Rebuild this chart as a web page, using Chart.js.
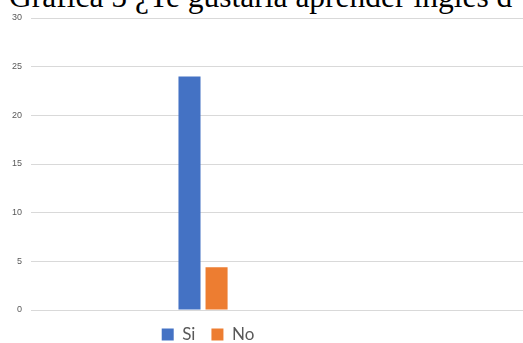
<!DOCTYPE html>
<html lang="es">
<head>
<meta charset="utf-8">
<title>Grafica 5</title>
<script src="https://cdn.jsdelivr.net/npm/chart.js@4.4.1/dist/chart.umd.min.js"></script>
<style>
  html, body { margin: 0; padding: 0; background: #ffffff; overflow: hidden; }
  #wrap { position: relative; width: 523px; height: 343px; overflow: hidden; }
  #caption {
    position: absolute; left: 9px; top: -19px;
    font-family: 'Liberation Serif', 'Times New Roman', serif;
    font-size: 31.5px; line-height: 31px; white-space: nowrap; color: #000;
  }
  #chartBox { position: absolute; left: 0; top: 0; width: 523px; height: 353px; }
</style>
</head>
<body>
<div id="wrap">
  <div id="caption">Grafica 5 ¿Te gustaría aprender inglés d</div>
  <div id="chartBox"><canvas id="chart"></canvas></div>
</div>
<script>
// Answers to the question, one group of bars
const seriesNames = ['Si', 'No'];
const siValues = [24];
const noValues = [4.4];
const groupPositions = [0];
const yTickValues = [0, 5, 10, 15, 20, 25, 30];

const toPoints = values => values.map((v, i) => ({ x: groupPositions[i], y: v }));

// Keeps the legend centred under the answer group rather than the full canvas
const legendAnchorX = 208;
const legendUnderGroup = {
  id: 'legendUnderGroup',
  afterLayout(chart) {
    const lg = chart.legend;
    if (!lg) return;
    const half = legendAnchorX - lg.left;
    lg.right = legendAnchorX + half;
    lg.width = lg.right - lg.left;
  }
};

new Chart(document.getElementById('chart'), {
  type: 'bar',
  data: {
    datasets: [
      { label: seriesNames[0], data: toPoints(siValues), backgroundColor: '#4472C4' },
      { label: seriesNames[1], data: toPoints(noValues), backgroundColor: '#ED7D31' }
    ]
  },
  options: {
    responsive: true,
    maintainAspectRatio: false,
    animation: false,
    layout: { padding: { top: 18, left: 0, right: 0, bottom: 0 } },
    datasets: { bar: { categoryPercentage: 0.11, barPercentage: 0.815 } },
    scales: {
      x: {
        type: 'linear',
        min: -0.5,
        max: 0.93,
        offset: false,
        ticks: { display: false, count: 2 },
        grid: { display: false, drawTicks: false, offset: false },
        border: { display: true, color: '#d9d9d9', width: 1 }
      },
      y: {
        min: 0,
        max: 30,
        afterBuildTicks: s => { s.ticks = yTickValues.map(v => ({ value: v })); },
        afterFit: s => { s.width = 31; },
        ticks: { padding: 9, color: '#595959', font: { family: 'Liberation Sans', size: 9 } },
        grid: { color: '#d9d9d9', drawTicks: false },
        border: { display: false }
      }
    },
    plugins: {
      legend: {
        position: 'bottom',
        labels: {
          boxWidth: 12, boxHeight: 12, padding: 16,
          color: '#595959',
          font: { family: 'Lato', size: 17 }
        }
      },
      tooltip: { enabled: false }
    }
  },
  plugins: [legendUnderGroup]
});
</script>
</body>
</html>
